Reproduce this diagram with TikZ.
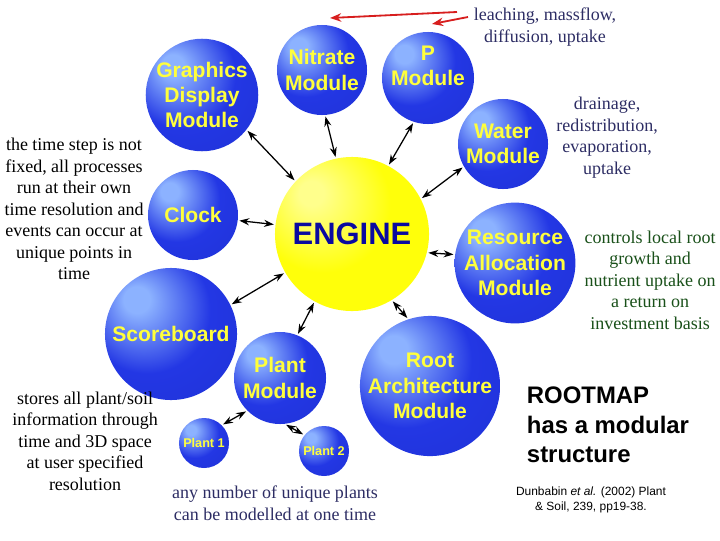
\documentclass[tikz,border=0pt]{standalone}
\usepackage{fontspec}
\setmainfont{Liberation Serif}
\setsansfont{Liberation Sans}
\usetikzlibrary{arrows.meta}
\definecolor{sphlight}{RGB}{140,178,255}
\definecolor{sphblue}{RGB}{35,55,228}
\definecolor{sphedge}{RGB}{12,22,140}
\definecolor{englight}{RGB}{255,255,140}
\definecolor{engyellow}{RGB}{255,255,10}
\definecolor{engedge}{RGB}{242,232,0}
\definecolor{modtext}{RGB}{255,255,60}
\definecolor{engtext}{RGB}{10,10,160}
\definecolor{navytext}{RGB}{45,45,100}
\definecolor{greentext}{RGB}{25,80,25}
\definecolor{leachred}{RGB}{215,30,30}
\pgfdeclareradialshading{bluesphere}{\pgfqpoint{-14bp}{14bp}}{%
  color(0bp)=(sphlight); color(5bp)=(sphlight); color(24bp)=(sphblue);
  color(44bp)=(sphblue!85!sphedge); color(68bp)=(sphedge)}
\pgfdeclareradialshading{yellowsphere}{\pgfqpoint{-14bp}{14bp}}{%
  color(0bp)=(englight); color(4bp)=(englight); color(22bp)=(engyellow);
  color(50bp)=(engyellow); color(68bp)=(engedge)}
\tikzset{
  module/.style={circle, inner sep=0pt, minimum size=#1*0.05cm, shading=bluesphere,
    text=modtext, align=center, font=\sffamily\bfseries\fontsize{15}{18}\selectfont},
  smallmodule/.style={module=#1, font=\sffamily\bfseries\fontsize{9}{11}\selectfont},
  engine/.style={circle, inner sep=0pt, minimum size=#1*0.05cm, shading=yellowsphere,
    text=engtext, font=\sffamily\bfseries\fontsize{22}{26}\selectfont},
  note/.style={align=center, font=\fontsize{12.8}{15.3}\selectfont},
  link/.style={<->, >={Stealth[length=7pt,width=5pt]}, line width=0.9pt, shorten <=1pt, shorten >=1pt},
  leach/.style={->, >={Stealth[length=8pt,width=6pt]}, leachred, line width=1.3pt}
}
\begin{document}
\begin{tikzpicture}[x=0.025cm, y=-0.025cm]
      \useasboundingbox (0,0) rectangle (720,540);
      \draw
        (352,234) node[engine=77] (engine){ENGINE}
        (202,95) node[module=55] (graphics){Graphics\\Display\\Module}
        (322,70) node[module=45] (nitrate){Nitrate\\Module}
        (428,78) node[module=46] (pmod){\raisebox{7pt}[\height][\depth]{\begin{tabular}{@{}c@{}}P\\Module\end{tabular}}}
        (503,144) node[module=45] (water){Water\\Module}
        (193,215) node[module=45] (clock){Clock}
        (515,263) node[module=60] (resource){Resource\\Allocation\\Module}
        (171,334) node[module=66] (scoreboard){Scoreboard}
        (280,378) node[module=46] (plant){Plant\\Module}
        (430,386) node[module=62] (root){Root\\Architecture\\Module}
        (204,443) node[smallmodule=25] (plantone){Plant 1}
        (324,451) node[smallmodule=25] (planttwo){Plant 2};
      \begin{scope}[link]
        \draw (graphics.-38) to (engine.137);
        \draw (nitrate.-86) to (engine.102);
        \draw (pmod.-108) to (engine.62);
        \draw (water.-150) to (engine.27);
        \draw (clock.-7) to (engine.173);
        \draw (resource.172) to (engine.-14);
        \draw (scoreboard.26) to (engine.-150);
        \draw (plant.68) to (engine.-119);
        \draw (root.108) to (engine.-59);
        \draw (plant.-135) to (plantone.45);
        \draw (plant.-84) to (planttwo.141);
      \end{scope}
      \node[note, text=navytext] (leachtext) at (545,27) {leaching, massflow,\\diffusion, uptake};
      \coordinate (leachA) at (457,12);
      \coordinate (leachB) at (468,17);
      \coordinate (nitratetip) at (330,18);
      \coordinate (ptip) at (432,24);
      \draw[leach] (leachA) -- (nitratetip);
      \draw[leach] (leachB) -- (ptip);
      \node[note, text=navytext] (draintext) at (607,137.5) {drainage,\\redistribution,\\evaporation,\\uptake};
      \node[note, text=greentext] (controltext) at (650,280) {controls local root\\growth and\\nutrient uptake on\\a return on\\investment basis};
      \node[note] (timetext) at (74,209) {the time step is not\\fixed, all processes\\run at their own\\time resolution and\\events can occur at\\unique points in\\time};
      \node[note] (storetext) at (85,441) {stores all plant/soil\\information through\\time and 3D space\\at user specified\\resolution};
      \node[note, text=navytext] (plantstext) at (275,503) {any number of unique plants\\can be modelled at one time};
      \node[anchor=west, align=left, font=\sffamily\bfseries\fontsize{17}{21}\selectfont] (rootmap) at (522,425) {ROOTMAP\\has a modular\\structure};
      \node[align=center, font=\sffamily\fontsize{8.5}{10.6}\selectfont] (reftext) at (591,499.5) {Dunbabin \textit{et al.} (2002) Plant\\\& Soil, 239, pp19-38.};
    \end{tikzpicture}
\end{document}
